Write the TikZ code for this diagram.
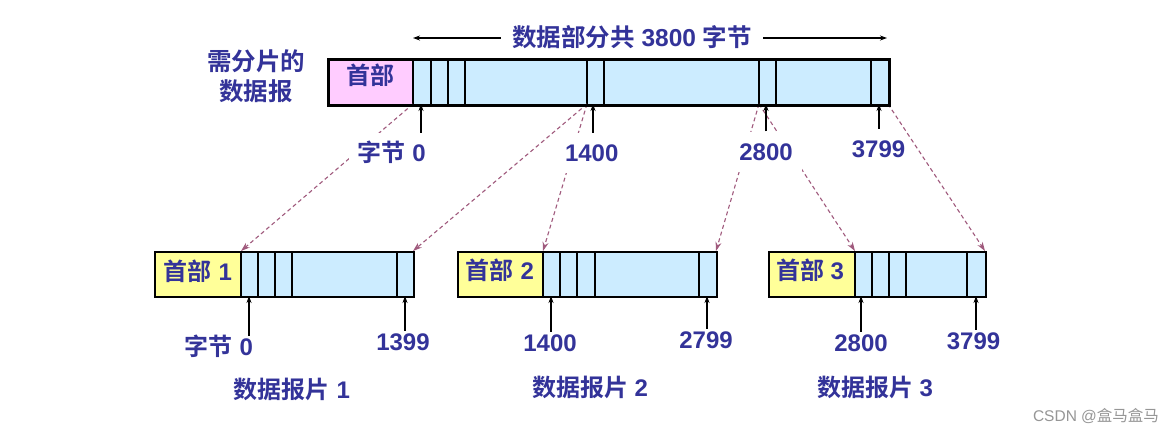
\documentclass[tikz,border=0pt]{standalone}
\usepackage{fontspec}
\setmainfont{Liberation Sans}
\newfontfamily\cjk{Noto Sans CJK SC}[BoldFont=* Bold]
\usetikzlibrary{arrows.meta}
\definecolor{txt}{RGB}{51,51,153}
\definecolor{cellblue}{RGB}{204,236,255}
\definecolor{hdrpink}{RGB}{255,204,255}
\definecolor{hdryellow}{RGB}{255,255,153}
\definecolor{dashc}{RGB}{160,90,125}
\definecolor{wmgray}{RGB}{150,150,150}
\newcommand{\zh}[1]{{\cjk #1}}
\begin{document}
\begin{tikzpicture}[x=1pt,y=-1pt,
  lbl/.style={text=txt, font=\fontsize{24}{28}\selectfont\bfseries, inner sep=0pt, text height=17.5pt, text depth=0pt},
  blbl/.style={lbl, inner xsep=9pt, minimum height=40pt},
  wlbl/.style={blbl, fill=white},
  slbl/.style={lbl, minimum height=22pt},
  cellline/.style={line width=1.1pt},
  ptr/.style={line width=1.1pt, -{Stealth[length=7pt,width=5pt]}},
  frag/.style={dashc, line width=1.1pt, dash pattern=on 4pt off 3pt, -{Stealth[length=9pt,width=6pt]}},
  barbox/.style={draw, inner sep=0pt, anchor=north west, minimum height=45pt},
]
\fill[white] (0,0) rectangle (1174,445);
\useasboundingbox (0,0) rectangle (1174,445);

% ---------- top datagram fills ----------
\path[fill=hdrpink] (327,58) rectangle (413,104);
\path[fill=cellblue] (413,58) rectangle (888,104);
\foreach \x in {413,431,448,465,587,604,759,776,871} \draw[cellline] (\x,58) -- (\x,104);

% ---------- fragments fills ----------
\path[fill=hdryellow] (154,251) rectangle (241,296);
\path[fill=cellblue] (241,251) rectangle (413,296);
\foreach \x in {241,258,275,292,397} \draw[cellline] (\x,251) -- (\x,296);
\path[fill=hdryellow] (457,251) rectangle (543,296);
\path[fill=cellblue] (543,251) rectangle (716,296);
\foreach \x in {543,560,577,595,699} \draw[cellline] (\x,251) -- (\x,296);
\path[fill=hdryellow] (768,251) rectangle (855,296);
\path[fill=cellblue] (855,251) rectangle (985,296);
\foreach \x in {855,872,889,906,967} \draw[cellline] (\x,251) -- (\x,296);

% ---------- named points ----------
\coordinate (s0) at (413,104);
\coordinate (s1) at (587,104);
\coordinate (s2) at (759,104);
\coordinate (s3) at (888,104);
\coordinate (f1a) at (241,251);
\coordinate (f1b) at (413,251);
\coordinate (f2a) at (543,251);
\coordinate (f2b) at (716,251);
\coordinate (f3a) at (855,251);
\coordinate (f3b) at (985,251);

% ---------- dashed fragment connectors ----------
\draw[frag] (s0) -- (f1a);
\draw[frag] (s1) -- (f1b);
\draw[frag] (s1) -- (f2a);
\draw[frag] (s2) -- (f2b);
\draw[frag] (s2) -- (f3a);
\draw[frag] (s3) -- (f3b);

% ---------- outlines ----------
\node[barbox, line width=2.5pt, minimum width=561pt, minimum height=46pt] (dgram) at (327,58) {};
\node[barbox, line width=1.5pt, minimum width=259pt] (frag1) at (154,251) {};
\node[barbox, line width=1.5pt, minimum width=259pt] (frag2) at (457,251) {};
\node[barbox, line width=1.5pt, minimum width=217pt] (frag3) at (768,251) {};

% ---------- title ----------
\node[lbl, inner xsep=11pt, font=\fontsize{24.5}{28}\selectfont\bfseries] (title) at (632,38) {\zh{数据部分共} 3800 \zh{字节}};
\coordinate (tl) at (413,38);
\coordinate (tr) at (887,38);
\draw[ptr] (title.west) -- (tl);
\draw[ptr] (title.east) -- (tr);

\node[lbl, font=\fontsize{24.5}{28}\selectfont\bfseries] (need) at (256,62) {\zh{需分片的}};
\node[lbl, font=\fontsize{24.5}{28}\selectfont\bfseries] (dgl) at (256,92) {\zh{数据报}};

% ---------- header texts ----------
\node[lbl] (h0) at (370,76) {\zh{首部}};
\node[lbl] (h1) at (198,271.5) {\zh{首部} 1};
\node[lbl] (h2) at (500,271) {\zh{首部} 2};
\node[lbl] (h3) at (810,271) {\zh{首部} 3};

% ---------- top offset labels ----------
\node[wlbl] (t0) at (391.7,153) {\zh{字节} 0};
\node[wlbl] (t1) at (591.7,153) {1400};
\node[wlbl] (t2) at (766,151.5) {2800};
\node[blbl] (t3) at (878.5,149) {3799};
\coordinate (p0) at (421,104);
\coordinate (p1) at (593,104);
\coordinate (p2) at (766,104);
\coordinate (p3) at (879,104);
\draw[ptr] (p0 |- t0.north) -- (p0);
\draw[ptr] (p1 |- t1.north) -- (p1);
\draw[ptr] (p2 |- t2.north) -- (p2);
\draw[ptr] (p3 |- t3.north) -- (p3);

% ---------- bottom offset labels ----------
\node[slbl] (b1) at (219,347) {\zh{字节} 0};
\node[slbl] (b2) at (403,342) {1399};
\node[slbl] (b3) at (550,343) {1400};
\node[slbl] (b4) at (706,340) {2799};
\node[slbl] (b5) at (861,343) {2800};
\node[slbl] (b6) at (973.5,341) {3799};
\coordinate (q1) at (249,296);
\coordinate (q2) at (405,296);
\coordinate (q3) at (551,296);
\coordinate (q4) at (707,296);
\coordinate (q5) at (861,296);
\coordinate (q6) at (976,296);
\draw[ptr] (q1 |- b1.north) -- (q1);
\draw[ptr] (q2 |- b2.north) -- (q2);
\draw[ptr] (q3 |- b3.north) -- (q3);
\draw[ptr] (q4 |- b4.north) -- (q4);
\draw[ptr] (q5 |- b5.north) -- (q5);
\draw[ptr] (q6 |- b6.north) -- (q6);

% ---------- fragment names ----------
\node[lbl] (n1) at (292,390) {\zh{数据报片} 1};
\node[lbl] (n2) at (590,388) {\zh{数据报片} 2};
\node[lbl] (n3) at (875,388) {\zh{数据报片} 3};

% ---------- watermark ----------
\node[text=wmgray, font=\fontsize{15.5}{18}\selectfont, inner sep=0pt, text height=11pt, text depth=0pt] (wm) at (1096,416) {CSDN @\zh{盒马盒马}};
\end{tikzpicture}
\end{document}
